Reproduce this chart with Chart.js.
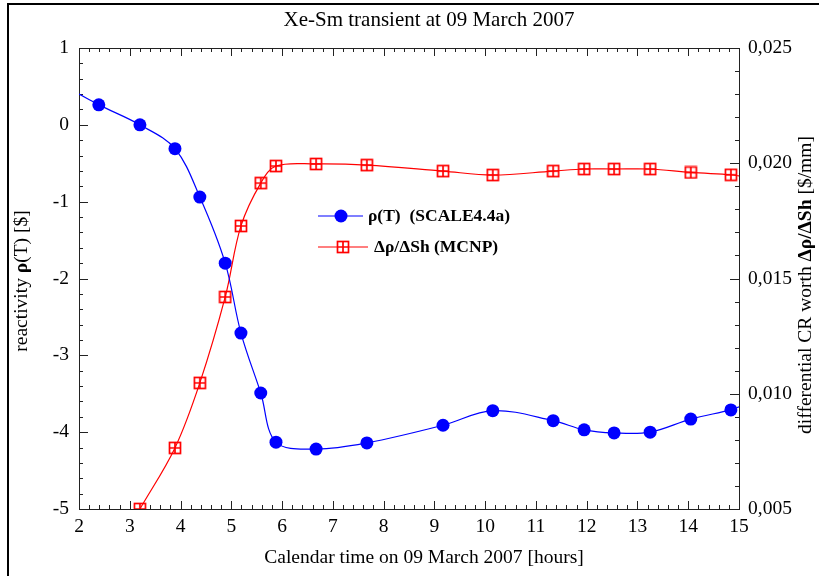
<!DOCTYPE html>
<html>
<head>
<meta charset="utf-8">
<title>Xe-Sm transient</title>
<script src="https://cdn.jsdelivr.net/npm/chart.js@4"></script>
<style>
  html, body { margin: 0; padding: 0; background: #fff; }
  #wrap { width: 819px; height: 576px; position: relative; }
</style>
</head>
<body>
<div id="wrap"><canvas id="xeChart"></canvas></div>
<script>
// calendar time of each measurement [hours]
const hours = [2.39, 3.2, 3.89, 4.38, 4.88, 5.19, 5.58, 5.88, 6.67, 7.67, 9.17, 10.15, 11.34, 11.95, 12.54, 13.25, 14.05, 14.84];
// reactivity rho(T) [$], SCALE4.4a
const rho = [0.26, 0.0, -0.31, -0.94, -1.80, -2.71, -3.49, -4.13, -4.22, -4.14, -3.91, -3.72, -3.85, -3.97, -4.01, -4.0, -3.83, -3.71];
// differential CR worth [$/mm], MCNP (starts at the second time)
const worthHours = hours.slice(1);
const worth = [0.005, 0.00765, 0.01047, 0.0142, 0.01728, 0.01914, 0.01988, 0.01997, 0.01992, 0.01966, 0.01949, 0.01966, 0.01975, 0.01975, 0.01975, 0.0196, 0.0195];
// where the fitted curves meet the plot edges
const rhoCurveStart = [2, 0.40];
const rhoCurveEnd = [15, -3.67];
const worthCurveEnd = [15, 0.01945];

const xTicks = [2, 3, 4, 5, 6, 7, 8, 9, 10, 11, 12, 13, 14, 15];
const rhoTicks = [1, 0, -1, -2, -3, -4, -5];
const worthTicks = ['0,005', '0,010', '0,015', '0,020', '0,025'];

const serif = '"Liberation Serif", "Times New Roman", serif';

const pts = (xs, ys) => xs.map((x, i) => ({ x: x, y: ys[i] }));

const rhoCurve = [{ x: rhoCurveStart[0], y: rhoCurveStart[1] }]
  .concat(pts(hours, rho), [{ x: rhoCurveEnd[0], y: rhoCurveEnd[1] }]);
const worthCurve = pts(worthHours, worth).concat([{ x: worthCurveEnd[0], y: worthCurveEnd[1] }]);

// square with a cross in it, used for the MCNP points
function boxPlus() {
  const c = document.createElement('canvas');
  c.width = 14; c.height = 14;
  const g = c.getContext('2d');
  g.fillStyle = '#fff';
  g.fillRect(1, 1, 12, 12);
  g.strokeStyle = '#ff0000';
  g.lineWidth = 1.7;
  g.strokeRect(1.5, 1.5, 11, 11);
  g.beginPath();
  g.moveTo(7, 1.5); g.lineTo(7, 12.5);
  g.moveTo(1.5, 7); g.lineTo(12.5, 7);
  g.stroke();
  return c;
}
const redMarker = boxPlus();

// draws text pieces one after another, each with its own font
function drawRuns(ctx, runs, x, y, align) {
  let total = 0;
  runs.forEach(r => { ctx.font = r.font; total += ctx.measureText(r.text).width; });
  let cx = align === 'center' ? x - total / 2 : x;
  ctx.textAlign = 'left';
  runs.forEach(r => {
    ctx.font = r.font;
    ctx.fillText(r.text, cx, y);
    cx += ctx.measureText(r.text).width;
  });
}

const framePlugin = {
  id: 'frame',
  beforeDraw(chart) {
    const ctx = chart.ctx;
    ctx.save();
    ctx.fillStyle = '#fff';
    ctx.fillRect(0, 0, chart.width, chart.height);
    ctx.strokeStyle = '#000';
    ctx.lineWidth = 2;
    ctx.beginPath();
    ctx.moveTo(8, chart.height + 2);
    ctx.lineTo(8, 4);
    ctx.lineTo(chart.width + 2, 4);
    ctx.stroke();
    ctx.restore();
  },
  beforeDatasetsDraw(chart) {
    const ctx = chart.ctx;
    const a = chart.chartArea;
    const sx = chart.scales.x, sl = chart.scales.y, sr = chart.scales.y1;
    ctx.save();
    ctx.strokeStyle = '#222';
    ctx.lineWidth = 1;
    ctx.strokeRect(Math.round(a.left) + 0.5, Math.round(a.top) + 0.5,
      Math.round(a.right - a.left), Math.round(a.bottom - a.top));
    ctx.beginPath();
    // inward ticks on bottom and top
    for (let i = 0; i <= 65; i++) {
      const v = 2 + i * 0.2;
      const px = Math.round(sx.getPixelForValue(v)) + 0.5;
      const len = i % 5 === 0 ? 8 : 4;
      ctx.moveTo(px, a.bottom); ctx.lineTo(px, a.bottom - len);
      ctx.moveTo(px, a.top); ctx.lineTo(px, a.top + len);
    }
    // left axis, minor every 0.2 $
    for (let i = 0; i <= 30; i++) {
      const v = -5 + i * 0.2;
      const py = Math.round(sl.getPixelForValue(v)) + 0.5;
      const len = i % 5 === 0 ? 9 : 4;
      ctx.moveTo(a.left, py); ctx.lineTo(a.left + len, py);
    }
    // right axis, minor every 0.001 $/mm
    for (let i = 0; i <= 20; i++) {
      const v = 0.005 + i * 0.001;
      const py = Math.round(sr.getPixelForValue(v)) + 0.5;
      const len = i % 5 === 0 ? 9 : 4;
      ctx.moveTo(a.right, py); ctx.lineTo(a.right - len, py);
    }
    ctx.stroke();
    ctx.restore();
  },
  afterDraw(chart) {
    const ctx = chart.ctx;
    const sx = chart.scales.x, sl = chart.scales.y, sr = chart.scales.y1;
    const a = chart.chartArea;
    const normal = '19.5px ' + serif;
    const bold = 'bold 19.5px ' + serif;
    ctx.save();
    ctx.fillStyle = '#000';

    // tick labels
    ctx.font = normal;
    ctx.textBaseline = 'middle';
    ctx.textAlign = 'right';
    rhoTicks.forEach(t => ctx.fillText(String(t), a.left - 10, sl.getPixelForValue(t)));
    ctx.textAlign = 'left';
    worthTicks.forEach(t => ctx.fillText(t, a.right + 9, sr.getPixelForValue(parseFloat(t.replace(',', '.')))));
    ctx.textAlign = 'center';
    ctx.textBaseline = 'top';
    xTicks.forEach(t => ctx.fillText(String(t), sx.getPixelForValue(t), a.bottom + 8));

    // titles
    ctx.textBaseline = 'middle';
    ctx.textAlign = 'center';
    ctx.font = '21px ' + serif;
    ctx.fillText('Xe-Sm transient at 09 March 2007', 429, 20);
    ctx.font = normal;
    ctx.fillText('Calendar time on 09 March 2007 [hours]', 424, 558);

    ctx.save();
    ctx.translate(22, 281);
    ctx.rotate(-Math.PI / 2);
    drawRuns(ctx, [
      { text: 'reactivity ', font: normal },
      { text: '\u03c1', font: bold },
      { text: '(T) [$]', font: normal }
    ], 0, 0, 'center');
    ctx.restore();

    ctx.save();
    ctx.translate(806, 285);
    ctx.rotate(-Math.PI / 2);
    drawRuns(ctx, [
      { text: 'differential CR worth ', font: normal },
      { text: '\u0394\u03c1/\u0394Sh', font: bold },
      { text: ' [$/mm]', font: normal }
    ], 0, 0, 'center');
    ctx.restore();

    // legend
    const lf = 'bold 17.5px ' + serif;
    ctx.lineWidth = 1.2;
    ctx.strokeStyle = '#0000ff';
    ctx.beginPath(); ctx.moveTo(318, 216); ctx.lineTo(363, 216); ctx.stroke();
    ctx.fillStyle = '#0000ff';
    ctx.beginPath(); ctx.arc(341, 216, 6.5, 0, Math.PI * 2); ctx.fill();
    ctx.strokeStyle = '#ff0000';
    ctx.beginPath(); ctx.moveTo(318, 247); ctx.lineTo(368, 247); ctx.stroke();
    ctx.drawImage(redMarker, 336, 240);
    ctx.fillStyle = '#000';
    ctx.font = lf;
    ctx.textAlign = 'left';
    ctx.fillText('\u03c1(T)  (SCALE4.4a)', 368, 216);
    ctx.fillText('\u0394\u03c1/\u0394Sh (MCNP)', 374, 247);
    ctx.restore();
  }
};

const ctx = document.getElementById('xeChart').getContext('2d');
const xeChart = new Chart(ctx, {
  type: 'scatter',
  data: {
    datasets: [
      {
        label: 'rho curve',
        data: rhoCurve,
        yAxisID: 'y',
        showLine: true,
        borderColor: '#0000ff',
        borderWidth: 1.2,
        pointRadius: 0,
        tension: 0.35
      },
      {
        label: 'worth curve',
        data: worthCurve,
        yAxisID: 'y1',
        showLine: true,
        borderColor: '#ff0000',
        borderWidth: 1.2,
        pointRadius: 0,
        tension: 0.35
      },
      {
        label: '\u03c1(T)  (SCALE4.4a)',
        data: pts(hours, rho),
        yAxisID: 'y',
        showLine: false,
        pointStyle: 'circle',
        pointRadius: 6.5,
        backgroundColor: '#0000ff',
        borderColor: '#0000ff',
        borderWidth: 0
      },
      {
        label: '\u0394\u03c1/\u0394Sh (MCNP)',
        data: pts(worthHours, worth),
        yAxisID: 'y1',
        showLine: false,
        pointStyle: redMarker,
        pointRadius: 7
      }
    ]
  },
  options: {
    responsive: true,
    maintainAspectRatio: false,
    animation: false,
    layout: { padding: { top: 48, left: 0, right: 0, bottom: 0 } },
    plugins: {
      legend: { display: false },
      tooltip: { enabled: false },
      title: { display: false }
    },
    scales: {
      x: {
        type: 'linear',
        min: 2, max: 15,
        grid: { display: false, drawTicks: false },
        border: { display: false },
        ticks: { display: false },
        afterFit: s => { s.height = 67; }
      },
      y: {
        position: 'left',
        min: -5, max: 1,
        grid: { display: false, drawTicks: false },
        border: { display: false },
        ticks: { display: false },
        afterFit: s => { s.width = 79; }
      },
      y1: {
        position: 'right',
        min: 0.005, max: 0.025,
        grid: { display: false, drawTicks: false },
        border: { display: false },
        ticks: { display: false },
        afterFit: s => { s.width = 80; }
      }
    }
  },
  plugins: [framePlugin]
});
</script>
</body>
</html>
